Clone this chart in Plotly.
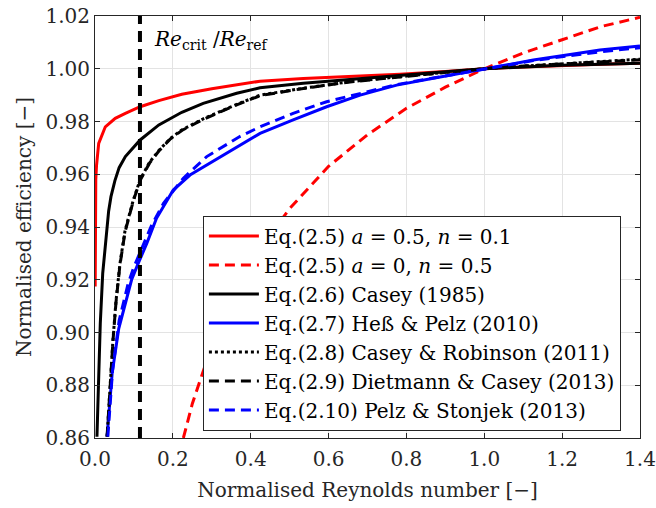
import plotly.graph_objects as go

# ---- data ----
re_crit = 0.1155

x_a05 = [0.0005, 0.001, 0.0015, 0.002, 0.004, 0.0095, 0.0265, 0.052, 0.078, 0.116, 0.164, 0.223, 0.30, 0.364, 0.424, 0.535, 0.655, 0.783, 0.9, 1.0, 1.1, 1.2, 1.3, 1.4]
y_a05 = [0.9174, 0.935, 0.950, 0.958, 0.9635, 0.9717, 0.978, 0.9812, 0.9831, 0.9856, 0.9879, 0.9903, 0.9924, 0.9940, 0.9953, 0.9963, 0.9971, 0.9979, 0.999, 1.0, 1.0007, 1.0013, 1.0017, 1.0021]

x_a0 = [0.227, 0.25, 0.275, 0.30, 0.35, 0.40, 0.45, 0.50, 0.60, 0.70, 0.80, 0.90, 1.00, 1.10, 1.20, 1.30, 1.40]
y_a0 = [0.860, 0.873, 0.884, 0.895, 0.912, 0.926, 0.937, 0.947, 0.963, 0.975, 0.985, 0.993, 1.000, 1.006, 1.011, 1.016, 1.0195]

x_casey85 = [0.005, 0.0095, 0.0136, 0.0198, 0.030, 0.035, 0.041, 0.051, 0.062, 0.078, 0.116, 0.164, 0.223, 0.278, 0.364, 0.424, 0.535, 0.655, 0.783, 0.9, 1.0, 1.1, 1.2, 1.3, 1.4]
y_casey85 = [0.8605, 0.8845, 0.9035, 0.9224, 0.9389, 0.946, 0.9515, 0.9575, 0.9625, 0.9667, 0.9730, 0.9787, 0.9835, 0.9869, 0.9907, 0.9928, 0.9945, 0.996, 0.9975, 0.9989, 1.0, 1.0007, 1.0013, 1.0017, 1.0021]

x_hess = [0.031, 0.044, 0.061, 0.086, 0.094, 0.111, 0.133, 0.158, 0.201, 0.244, 0.287, 0.330, 0.372, 0.424, 0.509, 0.595, 0.681, 0.775, 0.869, 0.989, 1.126, 1.212, 1.297, 1.4]
y_hess = [0.8605, 0.8845, 0.9015, 0.9161, 0.920, 0.9262, 0.9338, 0.9433, 0.954, 0.9597, 0.9635, 0.9673, 0.9711, 0.9755, 0.9806, 0.9856, 0.990, 0.9938, 0.9964, 0.9995, 1.0033, 1.0052, 1.0071, 1.0086]

x_cr = [0.031, 0.038, 0.046, 0.054, 0.064, 0.077, 0.098, 0.116, 0.14, 0.164, 0.193, 0.223, 0.278, 0.364, 0.424, 0.535, 0.655, 0.783, 0.9, 1.0, 1.1, 1.2, 1.3, 1.4]
y_cr = [0.8605, 0.878, 0.897, 0.912, 0.926, 0.9385, 0.950, 0.958, 0.9645, 0.969, 0.9735, 0.9768, 0.981, 0.9865, 0.990, 0.9926, 0.9951, 0.997, 0.9986, 1.0, 1.001, 1.0019, 1.0028, 1.0036]

x_dc = [0.031, 0.038, 0.046, 0.054, 0.064, 0.077, 0.098, 0.116, 0.14, 0.164, 0.193, 0.223, 0.278, 0.364, 0.424, 0.535, 0.655, 0.783, 0.9, 1.0, 1.1, 1.2, 1.3, 1.4]
y_dc = [0.8605, 0.8775, 0.8965, 0.9115, 0.9255, 0.938, 0.9497, 0.9577, 0.9642, 0.9688, 0.9733, 0.9766, 0.9808, 0.9863, 0.9898, 0.9925, 0.995, 0.9969, 0.9985, 1.0, 1.001, 1.0018, 1.0027, 1.0034]

x_pelz = [0.033, 0.045, 0.062, 0.085, 0.099, 0.121, 0.145, 0.176, 0.227, 0.287, 0.330, 0.372, 0.424, 0.509, 0.595, 0.681, 0.775, 0.869, 0.989, 1.126, 1.212, 1.297, 1.4]
y_pelz = [0.8605, 0.8855, 0.9045, 0.9185, 0.9245, 0.9325, 0.9405, 0.949, 0.9585, 0.9667, 0.9705, 0.9743, 0.978, 0.9831, 0.9875, 0.9907, 0.994, 0.9965, 0.9995, 1.0031, 1.0048, 1.0064, 1.008]

names = [
    "Eq.(2.5) <i>a</i> = 0.5, <i>n</i> = 0.1",
    "Eq.(2.5) <i>a</i> = 0, <i>n</i> = 0.5",
    "Eq.(2.6) Casey (1985)",
    "Eq.(2.7) Heß & Pelz (2010)",
    "Eq.(2.8) Casey & Robinson (2011)",
    "Eq.(2.9) Dietmann & Casey (2013)",
    "Eq.(2.10) Pelz & Stonjek (2013)",
]

x_ticks = [0.0, 0.2, 0.4, 0.6, 0.8, 1.0, 1.2, 1.4]
y_ticks = [0.86, 0.88, 0.90, 0.92, 0.94, 0.96, 0.98, 1.00, 1.02]

FONT = "DejaVu Serif"
FS = 20
DASH = "10px,6px"

series = [
    (x_a05, y_a05, "#ff0000", "solid", 3),
    (x_a0, y_a0, "#ff0000", DASH, 3),
    (x_casey85, y_casey85, "#000000", "solid", 3),
    (x_hess, y_hess, "#0000ff", "solid", 3),
    (x_cr, y_cr, "#000000", "dot", 3),
    (x_dc, y_dc, "#000000", DASH, 3),
    (x_pelz, y_pelz, "#0000ff", DASH, 3),
]

fig = go.Figure()
for (xs, ys, c, d, w), nm in zip(series, names):
    fig.add_trace(go.Scatter(x=xs, y=ys, mode="lines", name=nm,
                             line=dict(color=c, dash=d, width=w)))

fig.add_trace(go.Scatter(x=[re_crit, re_crit], y=[0.86, 1.02], mode="lines", showlegend=False,
                         line=dict(color="#000000", dash="11px,7px", width=4)))

fig.add_annotation(x=0.146, y=1.011, xref="x", yref="y", xanchor="left", yanchor="middle",
                   text="<i>Re</i><sub>crit</sub>&nbsp;/<i>Re</i><sub>ref</sub>", showarrow=False,
                   font=dict(family=FONT, size=FS, color="#000000"))

axis_common = dict(showgrid=True, gridcolor="#e3e3e3", gridwidth=1, zeroline=False,
                   showline=True, linecolor="#262626", linewidth=1, mirror="ticks",
                   ticks="inside", ticklen=5, tickcolor="#262626", automargin=False,
                   ticklabeloverflow="allow",
                   tickfont=dict(family=FONT, size=FS, color="#262626"))

fig.update_xaxes(range=[0, 1.4], tickvals=x_ticks, tickformat=".1f", ticklabelstandoff=3,
                 title=dict(text="Normalised Reynolds number [−]", font=dict(family=FONT, size=FS, color="#262626"), standoff=12),
                 **axis_common)
fig.update_yaxes(range=[0.86, 1.02], tickvals=y_ticks, tickformat=".2f",
                 title=dict(text="Normalised efficiency [−]", font=dict(family=FONT, size=FS, color="#262626"), standoff=8),
                 **axis_common)

fig.update_layout(
    width=656, height=508,
    margin=dict(l=95, r=16, t=16, b=70, autoexpand=False),
    plot_bgcolor="white", paper_bgcolor="white",
    font=dict(family=FONT, size=FS, color="#000000"),
    legend=dict(x=0.198, y=0.527, xanchor="left", yanchor="top",
                bgcolor="white", bordercolor="#262626", borderwidth=1,
                font=dict(family=FONT, size=FS, color="#000000"),
                itemwidth=50, tracegroupgap=0),
)

fig.write_html("out.html", config={"displayModeBar": False},
               post_script="document.body.style.margin='0';")
